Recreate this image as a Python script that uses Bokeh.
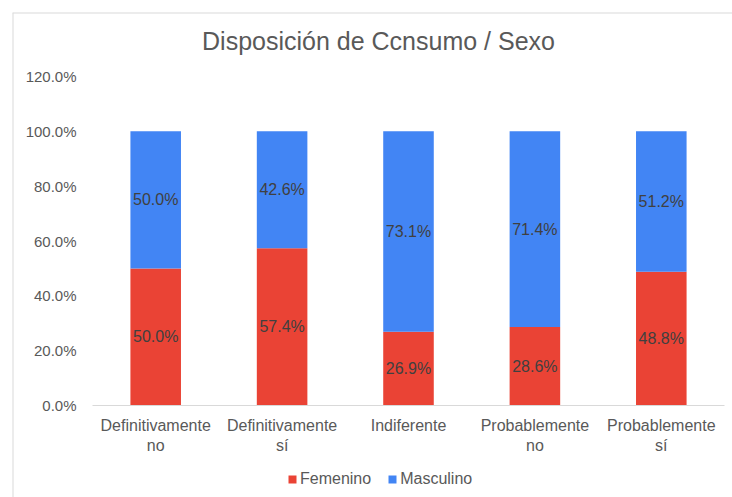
from bokeh.plotting import figure
from bokeh.models import (ColumnDataSource, Range1d, FixedTicker, PrintfTickFormatter,
                          Legend, LegendItem, Label, Span)
from bokeh.core.properties import value
from bokeh.embed import file_html
from bokeh.resources import INLINE

categories = ["Definitivamente\nno", "Definitivamente\nsí", "Indiferente",
              "Probablemente\nno", "Probablemente\nsí"]
femenino = [50.0, 57.4, 26.9, 28.6, 48.8]
masculino = [50.0, 42.6, 73.1, 71.4, 51.2]
y_ticks = [0, 20, 40, 60, 80, 100, 120]
title_text = "Disposición de Ccnsumo / Sexo"

RED = "#EA4335"
BLUE = "#4285F4"
FONT = "Liberation Sans"
TXT = "#595959"

# ---- layout (page pixels; the figure sits at the page origin) ----
W, H = 732, 497
BOX_L, BOX_T = 12, 12           # chart box top-left (frame covers the box)
BOX_R, BOX_B = W, H
PLOT_L, PLOT_R = 92, 724        # plot area horizontally
PLOT_T, PLOT_B = 76, 405        # y=120% and y=0%
N = len(categories)
YMAX = y_ticks[-1]
xs_px = (PLOT_R - PLOT_L) / N
ys_px = (PLOT_B - PLOT_T) / YMAX
x_lo = (BOX_L - PLOT_L) / xs_px
x_hi = N + (BOX_R - PLOT_R) / xs_px
y_lo = -(BOX_B - PLOT_B) / ys_px
y_hi = YMAX + (PLOT_T - BOX_T) / ys_px

xs = [i + 0.5 for i in range(N)]
src = ColumnDataSource(dict(
    x=xs,
    fem_top=femenino,
    masc_top=[f + m for f, m in zip(femenino, masculino)],
    fem_mid=[f / 2 for f in femenino],
    masc_mid=[f + m / 2 for f, m in zip(femenino, masculino)],
    fem_lbl=[f"{v:.1f}%" for v in femenino],
    masc_lbl=[f"{v:.1f}%" for v in masculino],
))

p = figure(width=W, height=H, output_backend="svg", toolbar_location=None,
           x_range=Range1d(x_lo, x_hi), y_range=Range1d(y_lo, y_hi),
           min_border_left=BOX_L, min_border_top=BOX_T,
           min_border_right=0, min_border_bottom=0)
p.outline_line_color = None
p.grid.visible = False
p.background_fill_color = "white"
p.border_fill_color = "white"

# chart box border (left and top edges visible)
p.add_layout(Span(location=x_lo, dimension="height", line_color="#d9d9d9", line_width=2))
p.add_layout(Span(location=y_hi, dimension="width", line_color="#d9d9d9", line_width=2))

r_fem = p.vbar(x="x", width=0.4, bottom=0, top="fem_top", source=src,
               fill_color=RED, line_color=None)
r_masc = p.vbar(x="x", width=0.4, bottom="fem_top", top="masc_top", source=src,
                fill_color=BLUE, line_color=None)

for ycol, tcol in (("fem_mid", "fem_lbl"), ("masc_mid", "masc_lbl")):
    p.text(x="x", y=ycol, text=tcol, source=src, text_align="center",
           text_baseline="middle", text_font=value(FONT), text_font_size="16px",
           text_color="#404040")

# y axis
p.yaxis.fixed_location = 0
p.yaxis.bounds = (0, YMAX)
p.yaxis.ticker = FixedTicker(ticks=y_ticks)
p.yaxis.formatter = PrintfTickFormatter(format="%.1f%%")
p.yaxis.axis_line_color = None
p.yaxis.major_tick_line_color = None
p.yaxis.minor_tick_line_color = None
p.yaxis.major_label_text_font = FONT
p.yaxis.major_label_text_font_size = "15px"
p.yaxis.major_label_text_color = TXT
p.yaxis.major_label_standoff = 10

# x axis
p.xaxis.fixed_location = 0
p.xaxis.bounds = (0, N)
p.xaxis.ticker = FixedTicker(ticks=xs)
p.xaxis.major_label_overrides = {x: c for x, c in zip(xs, categories)}
p.xaxis.axis_line_color = "#d9d9d9"
p.xaxis.axis_line_width = 1
p.xaxis.major_tick_line_color = None
p.xaxis.minor_tick_line_color = None
p.xaxis.major_label_text_font = FONT
p.xaxis.major_label_text_font_size = "16px"
p.xaxis.major_label_text_color = TXT
p.xaxis.major_label_standoff = 5

# title
p.add_layout(Label(x=378 - BOX_L, y=BOX_B - 40, x_units="screen", y_units="screen",
                   text=title_text, text_align="center", text_baseline="middle",
                   text_font=FONT, text_font_size="25px", text_color=TXT))

legend = Legend(items=[LegendItem(label="Femenino", renderers=[r_fem]),
                       LegendItem(label="Masculino", renderers=[r_masc])],
                orientation="horizontal", location=(287 - BOX_L, BOX_B - 488),
                glyph_width=10, glyph_height=10, label_standoff=3, spacing=16,
                padding=0, margin=0, border_line_color=None, background_fill_alpha=0,
                label_text_font=FONT, label_text_font_size="16px", label_text_color=TXT)
p.add_layout(legend, "center")

open("out.html", "w").write(file_html(p, INLINE))
